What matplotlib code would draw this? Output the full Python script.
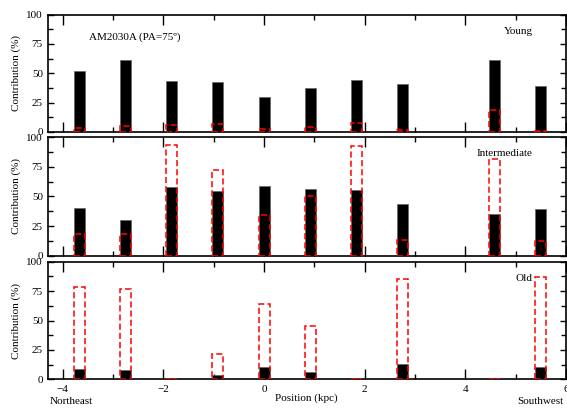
import matplotlib
matplotlib.use("Agg")
import matplotlib.pyplot as plt

# Posiciones de las aperturas (kpc)
posiciones = [-3.67, -2.75, -1.83, -0.92, 0.0, 0.92, 1.83, 2.75, 4.58, 5.50]

# Contribuciones (%) - luz (negro) y masa (rojo)
young_luz = [52, 61.5, 43, 42.5, 30, 37, 44.5, 40.5, 61.5, 39.5]
young_masa = [3.2, 4.6, 5.7, 6.6, 2.3, 4.0, 7.2, 1.4, 18.3, 0.9]
inter_luz = [40, 30.2, 58, 54.5, 59, 56.6, 55.5, 43.7, 35.5, 39.4]
inter_masa = [18.6, 18, 93.8, 72.2, 34.1, 50.4, 92.7, 13.3, 81.4, 12.4]
old_luz = [8.8, 7.6, 0, 3.7, 10.7, 6.5, 0, 13, 0, 10.7]
old_masa = [78.5, 77, 0.5, 21.3, 63.8, 45.3, 0.5, 85.5, 0.5, 86.7]

etiquetas = ["Young", "Intermediate", "Old"]
datos = [(young_luz, young_masa), (inter_luz, inter_masa), (old_luz, old_masa)]

plt.rcParams["font.family"] = ["Liberation Serif", "DejaVu Serif"]
plt.rcParams["font.size"] = 8

fig = plt.figure(figsize=(5.67, 4.08), dpi=100)
izq, ancho = 0.0841, 0.914
cajas = [(0.677, 0.287), (0.3733, 0.2902), (0.0703, 0.2883)]
ancho_barra = 0.22

for i, ((luz, masa), (y0, alto)) in enumerate(zip(datos, cajas)):
    ax = fig.add_axes([izq, y0, ancho, alto])
    ax.bar(posiciones, luz, width=ancho_barra, color="black", edgecolor="#666666", linewidth=0.5, zorder=2)
    ax.bar(posiciones, masa, width=ancho_barra, facecolor="none", edgecolor="red",
           linestyle=(0, (4, 2)), linewidth=1.1, zorder=3)
    ax.set_xlim(-4.3, 6.0)
    ax.set_ylim(0, 100)
    ax.set_xticks([-4, -2, 0, 2, 4, 6])
    ax.set_xticks([-3, -1, 1, 3, 5], minor=True)
    ax.set_yticks([0, 25, 50, 75, 100])
    ax.set_yticks([12.5, 37.5, 62.5, 87.5], minor=True)
    ax.tick_params(which="both", direction="in", top=True, right=True, width=1.0)
    ax.tick_params(axis="x", which="major", length=7, pad=4)
    ax.tick_params(axis="x", which="minor", length=3.5)
    ax.tick_params(axis="y", which="major", length=4.5)
    ax.tick_params(axis="y", which="minor", length=3.5)
    for sp in ax.spines.values():
        sp.set_linewidth(1.2)
    ax.set_ylabel("Contribution (%)", labelpad=4)
    ax.text(5.34, 86, etiquetas[i], ha="right", va="center")
    if i == 0:
        ax.text(-3.47, 81, "AM2030A (PA=75º)", ha="left", va="center")
    if i < 2:
        ax.tick_params(labelbottom=False)
    else:
        ax.set_xlabel("Position (kpc)", labelpad=0)

fig.text(50 / 567, 1 - 401 / 408, "Northeast", ha="left", va="center")
fig.text(563 / 567, 1 - 401 / 408, "Southwest", ha="right", va="center")

fig.savefig("out.png", dpi=100)
